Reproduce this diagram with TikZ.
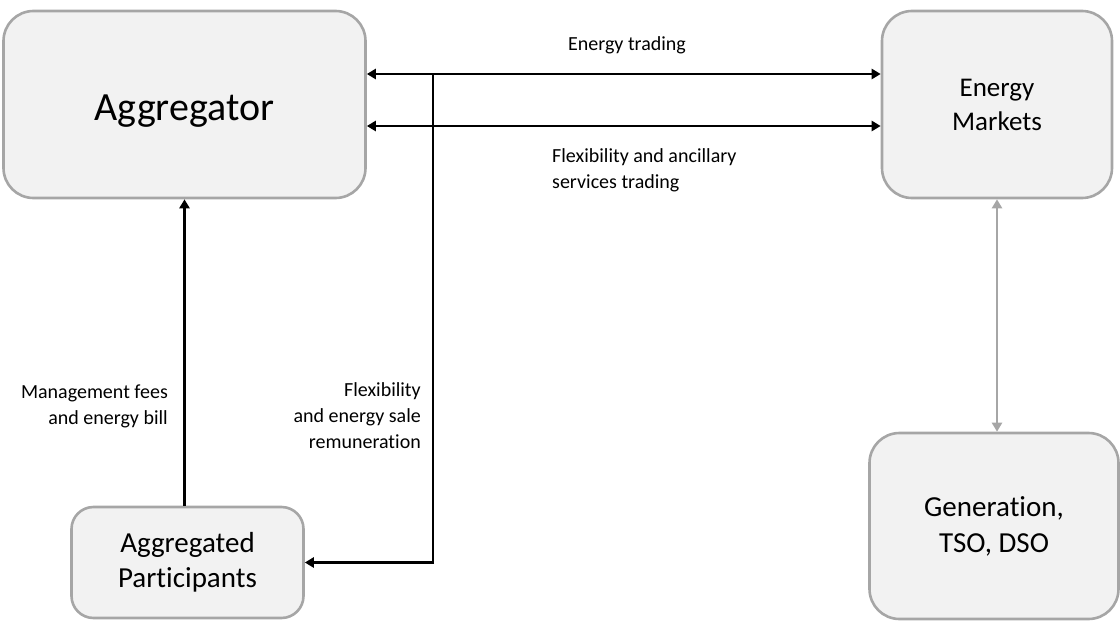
\documentclass[tikz,border=0pt]{standalone}
\usepackage{fontspec}
\setmainfont{Carlito}[Ligatures=NoCommon]
\usetikzlibrary{arrows.meta}
\definecolor{boxfill}{HTML}{F2F2F2}
\definecolor{boxline}{HTML}{A6A6A6}
\begin{document}
\begin{tikzpicture}[x=1pt,y=-1pt,
  box/.style={draw=boxline,line width=2.6pt,fill=boxfill,rounded corners=30pt,
    align=center,inner sep=0pt},
  flow/.style={line width=2.8pt,black,{Triangle[length=9pt,width=10pt]}-{Triangle[length=9pt,width=10pt]}},
  oneway/.style={line width=2.8pt,black,-{Triangle[length=9pt,width=10pt]}},
  grayflow/.style={line width=2.4pt,boxline,{Triangle[length=9pt,width=10pt]}-{Triangle[length=9pt,width=10pt]}},
  lbl/.style={font=\fontsize{20}{26}\selectfont,inner sep=0pt}]
\useasboundingbox (0,0) rectangle (1120,621);

% boxes
\node[box,minimum width=362pt,minimum height=187pt,font=\fontsize{40}{48}\selectfont]
  (agg) at (184.5,104.5) {\raisebox{-7pt}[\height][\depth]{Aggregator}};
\node[box,minimum width=230pt,minimum height=187pt,font=\fontsize{27}{34}\selectfont]
  (mkt) at (997,104.5) {Energy\\Markets};
\node[box,minimum width=232pt,minimum height=111pt,rounded corners=22pt,
  font=\fontsize{29}{35}\selectfont] (ap) at (187.5,562.5) {Aggregated\\Participants};
\node[box,minimum width=249pt,minimum height=186pt,font=\fontsize{29}{36}\selectfont]
  (gen) at (994,526) {Generation,\\TSO, DSO};

% trading links between aggregator and markets
\draw[flow] ([yshift=30.5pt]agg.east) -- ([yshift=30.5pt]agg.east -| mkt.west);
\draw[flow] ([yshift=-21.5pt]agg.east) -- ([yshift=-21.5pt]agg.east -| mkt.west);

% remuneration branch down to participants
\coordinate (j) at (433,74);
\draw[oneway] (j) |- (ap.east);

% fees from participants up to aggregator
\draw[oneway] (ap.north -| agg.south) -- (agg.south);

% markets <-> generation
\draw[grayflow] (mkt.south) -- (mkt.south |- gen.north);

% labels
\node[lbl] (l1) at (627,45) {Energy trading};
\node[lbl,anchor=west,align=left] (l2) at (552,170) {Flexibility and ancillary\\services trading};
\node[lbl,anchor=east,align=right] (l3) at (168,406) {Management fees\\and energy bill};
\node[lbl,anchor=east,align=right] (l4) at (421,416) {Flexibility\\and energy sale\\remuneration};
\end{tikzpicture}
\end{document}
